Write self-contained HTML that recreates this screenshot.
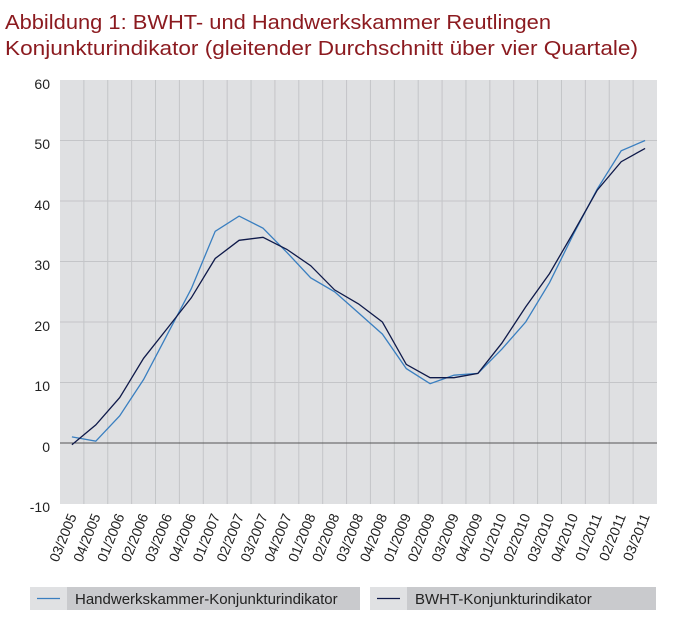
<!DOCTYPE html>
<html><head><meta charset="utf-8"><style>
html,body{margin:0;padding:0;background:#fff}
svg{display:block;font-family:"Liberation Sans",sans-serif}
</style></head><body>
<svg id="s" width="683" height="626" viewBox="0 0 683 626">
<text x="5" y="29" font-size="20" fill="#8b1a1f" textLength="546" lengthAdjust="spacingAndGlyphs">Abbildung 1: BWHT- und Handwerkskammer  Reutlingen</text>
<text x="5" y="55" font-size="20" fill="#8b1a1f" textLength="633" lengthAdjust="spacingAndGlyphs">Konjunkturindikator (gleitender Durchschnitt über vier Quartale)</text>
<rect x="60" y="80" width="597" height="424" fill="#dfe0e2"/>
<g id="grid" stroke="#c4c5c8" stroke-width="1"></g>
<line x1="60" y1="443" x2="657" y2="443" stroke="#555" stroke-width="1"/>
<g font-size="14" fill="#222" text-anchor="end">
<text x="50" y="89">60</text><text x="50" y="149">50</text><text x="50" y="210">40</text>
<text x="50" y="270">30</text><text x="50" y="331">20</text><text x="50" y="391">10</text>
<text x="50" y="452">0</text><text x="50" y="512">-10</text>
</g>
<g id="lines"></g>
<g id="xl" font-size="14" fill="#222" text-anchor="end">
<text>03/2005</text><text>04/2005</text><text>01/2006</text><text>02/2006</text><text>03/2006</text><text>04/2006</text><text>01/2007</text><text>02/2007</text><text>03/2007</text><text>04/2007</text><text>01/2008</text><text>02/2008</text><text>03/2008</text><text>04/2008</text><text>01/2009</text><text>02/2009</text><text>03/2009</text><text>04/2009</text><text>01/2010</text><text>02/2010</text><text>03/2010</text><text>04/2010</text><text>01/2011</text><text>02/2011</text><text>03/2011</text>
</g>
<rect x="30" y="587" width="330" height="23" fill="#c9cacd"/>
<rect x="30" y="587" width="37" height="23" fill="#e0e1e3"/>
<line x1="37" y1="598.5" x2="60" y2="598.5" stroke="#3a7fc0" stroke-width="1.3"/>
<text x="75" y="604" font-size="15" fill="#222">Handwerkskammer-Konjunkturindikator</text>
<rect x="370" y="587" width="286" height="23" fill="#c9cacd"/>
<rect x="370" y="587" width="37" height="23" fill="#e0e1e3"/>
<line x1="377" y1="598.5" x2="400" y2="598.5" stroke="#0f1a4a" stroke-width="1.3"/>
<text x="415" y="604" font-size="15" fill="#222">BWHT-Konjunkturindikator</text>
</svg>
<script>
var NS="http://www.w3.org/2000/svg",w=597/25;
var g=document.getElementById("grid");
for(var i=1;i<25;i++){var l=document.createElementNS(NS,"line");var x=60+w*i;l.setAttribute("x1",x);l.setAttribute("x2",x);l.setAttribute("y1",80);l.setAttribute("y2",504);g.appendChild(l);}
for(var v=10;v<=50;v+=10){var y=443-6.05*v;var l=document.createElementNS(NS,"line");l.setAttribute("x1",60);l.setAttribute("x2",657);l.setAttribute("y1",y);l.setAttribute("y2",y);g.appendChild(l);}
var a=[1,0.3,4.5,10.5,18,25.5,35,37.5,35.5,31.5,27.3,25,21.5,18,12.3,9.8,11.2,11.5,15.5,20,26.5,34.5,42,48.3,50];
var b=[-0.3,3,7.5,14,19,24,30.5,33.5,34,32,29.3,25.3,23,20,13,10.8,10.8,11.5,16.5,22.5,28,34.8,41.8,46.5,48.7];
function pl(d,c){var p=document.createElementNS(NS,"polyline");p.setAttribute("points",d.map(function(v,i){return (60+w*(i+0.5)).toFixed(1)+","+(443-6.05*v).toFixed(1)}).join(" "));p.setAttribute("fill","none");p.setAttribute("stroke",c);p.setAttribute("stroke-width","1.3");document.getElementById("lines").appendChild(p);}
pl(a,"#3a7fc0");pl(b,"#0f1a4a");
var t=document.getElementById("xl").children;
for(var i=0;i<t.length;i++){var x=60+w*(i+0.5)+5;t[i].setAttribute("transform","translate("+x+",516) rotate(-68)");}
</script>
</body></html>
